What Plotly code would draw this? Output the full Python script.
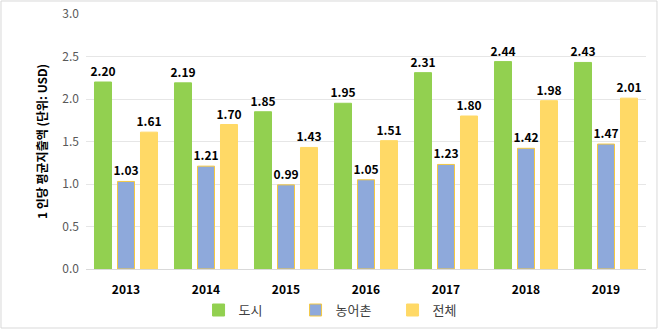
import plotly.graph_objects as go

years = ["2013", "2014", "2015", "2016", "2017", "2018", "2019"]
city = [2.20, 2.19, 1.85, 1.95, 2.31, 2.44, 2.43]
rural = [1.03, 1.21, 0.99, 1.05, 1.23, 1.42, 1.47]
total = [1.61, 1.70, 1.43, 1.51, 1.80, 1.98, 2.01]

series = [
    ("도시", city, "#92D050", "#92D050"),
    ("농어촌", rural, "#8EA9DB", "#F4C842"),
    ("전체", total, "#FFD966", "#FFD966"),
]

FONT = "Noto Sans CJK KR"

fig = go.Figure()
for name, vals, color, edge in series:
    fig.add_trace(go.Bar(
        name=name, x=years, y=vals,
        marker=dict(color=color, line=dict(color=edge, width=1)),
        text=[f"{v:.2f}" for v in vals],
        textposition="outside",
        constraintext="none",
        textfont=dict(family=FONT, size=12, color="#000000", weight="bold"),
        cliponaxis=False,
    ))

fig.update_layout(
    width=659, height=330,
    margin=dict(l=86, r=13, t=14, b=61, autoexpand=False),
    paper_bgcolor="white", plot_bgcolor="white",
    barmode="group", bargap=0.1375, bargroupgap=0.26,
    font=dict(family=FONT, size=12, color="#404040"),
    showlegend=True,
    legend=dict(orientation="h", x=0.201, xanchor="left", y=-0.161, yanchor="middle",
                font=dict(family=FONT, size=13, color="#404040"),
                itemwidth=30, entrywidthmode="pixels", entrywidth=52),
    xaxis=dict(showline=True, linecolor="#d9d9d9", linewidth=1, ticks="",
               automargin=False, ticklabelstandoff=10,
               tickfont=dict(family=FONT, size=12, color="#000000", weight="bold")),
    yaxis=dict(range=[0, 3.0], dtick=0.5, tickformat=".1f", automargin=False,
               showgrid=True, gridcolor="#e6e6e6", gridwidth=1, zeroline=False,
               tickfont=dict(family=FONT, size=12, color="#595959"),
               title=dict(text="1 인당 평균지출액 (단위: USD)", standoff=12,
                          font=dict(family=FONT, size=12, color="#000000", weight="bold")),
               ticklabelstandoff=6),
    shapes=[dict(type="rect", xref="paper", yref="paper",
                 x0=-0.1518, x1=1.0196, y0=-0.2314, y1=1.051,
                 line=dict(color="#d9d9d9", width=1), layer="below")],
)

fig.write_html("out.html")
